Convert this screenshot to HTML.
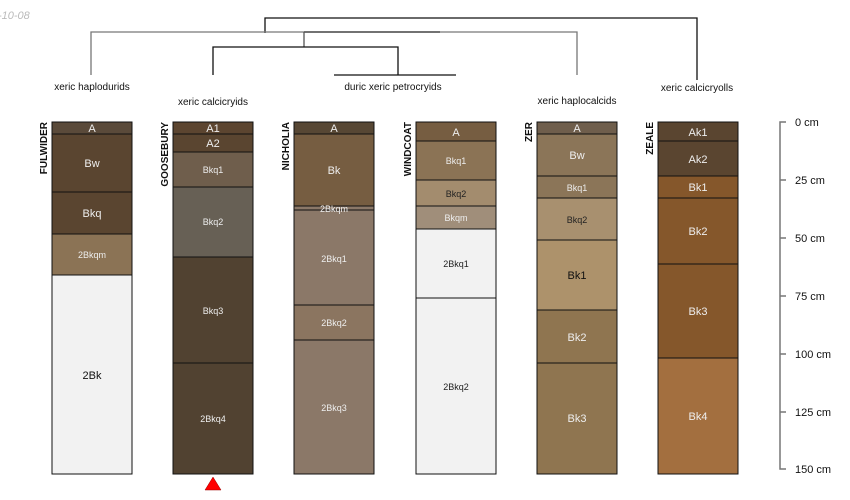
<!DOCTYPE html>
<html><head><meta charset="utf-8"><style>
html,body{margin:0;padding:0;background:#fff;}
svg{display:block;font-family:"Liberation Sans",sans-serif;}
</style></head><body>
<svg width="850" height="500" viewBox="0 0 850 500" xmlns="http://www.w3.org/2000/svg">
<text x="-2" y="19" font-size="11" fill="#bbb" font-style="italic">-10-08</text>
<!-- dendrogram -->
<g fill="none" stroke-width="1.3">
<path d="M265 33V18H697V80" stroke="#111"/>
<path d="M91 75V32H577V75" stroke="#777"/>
<path d="M304 32H440" stroke="#333"/>
<path d="M304 32V47" stroke="#555"/>
<path d="M213 75V47H398V75" stroke="#111"/>
<path d="M334 75H456" stroke="#111"/>
</g>
<g font-size="10" fill="#111" text-anchor="middle">
<text x="92" y="90">xeric haplodurids</text>
<text x="213" y="105">xeric calcicryids</text>
<text x="393" y="90">duric xeric petrocryids</text>
<text x="577" y="104">xeric haplocalcids</text>
<text x="697" y="91">xeric calcicryolls</text>
</g>
<!-- profiles -->
<g stroke="#111" stroke-width="1">
<rect x="52" y="122" width="80" height="12" fill="#5a4a3a"/>
<rect x="52" y="134" width="80" height="58" fill="#5a4530"/>
<rect x="52" y="192" width="80" height="42" fill="#5a4530"/>
<rect x="52" y="234" width="80" height="41" fill="#8b7355"/>
<rect x="52" y="275" width="80" height="199" fill="#f2f2f2"/>
<rect x="173" y="122" width="80" height="12" fill="#5c4530"/>
<rect x="173" y="134" width="80" height="18" fill="#5a4530"/>
<rect x="173" y="152" width="80" height="35" fill="#6f5e4c"/>
<rect x="173" y="187" width="80" height="70" fill="#676055"/>
<rect x="173" y="257" width="80" height="106" fill="#514231"/>
<rect x="173" y="363" width="80" height="111" fill="#514231"/>
<rect x="294" y="122" width="80" height="12" fill="#574734"/>
<rect x="294" y="134" width="80" height="72" fill="#765d41"/>
<rect x="294" y="206" width="80" height="4" fill="#8b7868"/>
<rect x="294" y="210" width="80" height="95" fill="#8b7868"/>
<rect x="294" y="305" width="80" height="35" fill="#8b7560"/>
<rect x="294" y="340" width="80" height="134" fill="#8b7868"/>
<rect x="416" y="122" width="80" height="19" fill="#765d41"/>
<rect x="416" y="141" width="80" height="39" fill="#8b7355"/>
<rect x="416" y="180" width="80" height="26" fill="#a38c6e"/>
<rect x="416" y="206" width="80" height="23" fill="#a08e7a"/>
<rect x="416" y="229" width="80" height="69" fill="#f2f2f2"/>
<rect x="416" y="298" width="80" height="176" fill="#f2f2f2"/>
<rect x="537" y="122" width="80" height="12" fill="#6f5e4c"/>
<rect x="537" y="134" width="80" height="42" fill="#8b7558"/>
<rect x="537" y="176" width="80" height="22" fill="#8b7558"/>
<rect x="537" y="198" width="80" height="42" fill="#a8906f"/>
<rect x="537" y="240" width="80" height="70" fill="#ad926b"/>
<rect x="537" y="310" width="80" height="53" fill="#8f7550"/>
<rect x="537" y="363" width="80" height="111" fill="#8f7550"/>
<rect x="658" y="122" width="80" height="19" fill="#5a4530"/>
<rect x="658" y="141" width="80" height="35" fill="#5a4530"/>
<rect x="658" y="176" width="80" height="22" fill="#85572b"/>
<rect x="658" y="198" width="80" height="66" fill="#85572b"/>
<rect x="658" y="264" width="80" height="94" fill="#85572b"/>
<rect x="658" y="358" width="80" height="116" fill="#a36f3f"/>
</g>
<g text-anchor="middle" fill="#eee" font-size="11">
<text x="92" y="132">A</text><text x="92" y="167">Bw</text><text x="92" y="217">Bkq</text>
<text x="92" y="258" font-size="9">2Bkqm</text><text x="92" y="379" fill="#111">2Bk</text>
<text x="213" y="132">A1</text><text x="213" y="147">A2</text>
<text x="213" y="173" font-size="9">Bkq1</text><text x="213" y="225" font-size="9">Bkq2</text>
<text x="213" y="314" font-size="9">Bkq3</text><text x="213" y="422" font-size="9">2Bkq4</text>
<text x="334" y="132">A</text><text x="334" y="174">Bk</text>
<text x="334" y="212" font-size="9">2Bkqm</text><text x="334" y="262" font-size="9">2Bkq1</text>
<text x="334" y="326" font-size="9">2Bkq2</text><text x="334" y="411" font-size="9">2Bkq3</text>
<text x="456" y="136">A</text><text x="456" y="164" font-size="9">Bkq1</text>
<text x="456" y="197" font-size="9" fill="#222">Bkq2</text><text x="456" y="221" font-size="9">Bkqm</text>
<text x="456" y="267" font-size="9" fill="#222">2Bkq1</text><text x="456" y="390" font-size="9" fill="#222">2Bkq2</text>
<text x="577" y="132">A</text><text x="577" y="159">Bw</text>
<text x="577" y="191" font-size="9">Bkq1</text><text x="577" y="223" font-size="9" fill="#222">Bkq2</text>
<text x="577" y="279" fill="#111">Bk1</text><text x="577" y="341">Bk2</text><text x="577" y="422">Bk3</text>
<text x="698" y="136">Ak1</text><text x="698" y="163">Ak2</text><text x="698" y="191">Bk1</text>
<text x="698" y="235">Bk2</text><text x="698" y="315">Bk3</text><text x="698" y="420">Bk4</text>
</g>
<g font-size="10" font-weight="bold" fill="#111">
<text transform="translate(47,122) rotate(-90)" text-anchor="end">FULWIDER</text>
<text transform="translate(168,122) rotate(-90)" text-anchor="end">GOOSEBURY</text>
<text transform="translate(289,122) rotate(-90)" text-anchor="end">NICHOLIA</text>
<text transform="translate(411,122) rotate(-90)" text-anchor="end">WINDCOAT</text>
<text transform="translate(532,122) rotate(-90)" text-anchor="end">ZER</text>
<text transform="translate(653,122) rotate(-90)" text-anchor="end">ZEALE</text>
</g>
<polygon points="213,477 205,490 221,490" fill="#f00" stroke="#900" stroke-width="0.5"/>
<g stroke="#777" stroke-width="1.5" fill="none">
<path d="M786 122H780V469H786"/>
<path d="M780 180H786M780 238H786M780 296H786M780 354H786M780 412H786"/>
</g>
<g font-size="11" fill="#111">
<text x="795" y="126">0 cm</text><text x="795" y="184">25 cm</text><text x="795" y="242">50 cm</text>
<text x="795" y="300">75 cm</text><text x="795" y="358">100 cm</text><text x="795" y="416">125 cm</text>
<text x="795" y="473">150 cm</text>
</g>
</svg>
</body></html>
